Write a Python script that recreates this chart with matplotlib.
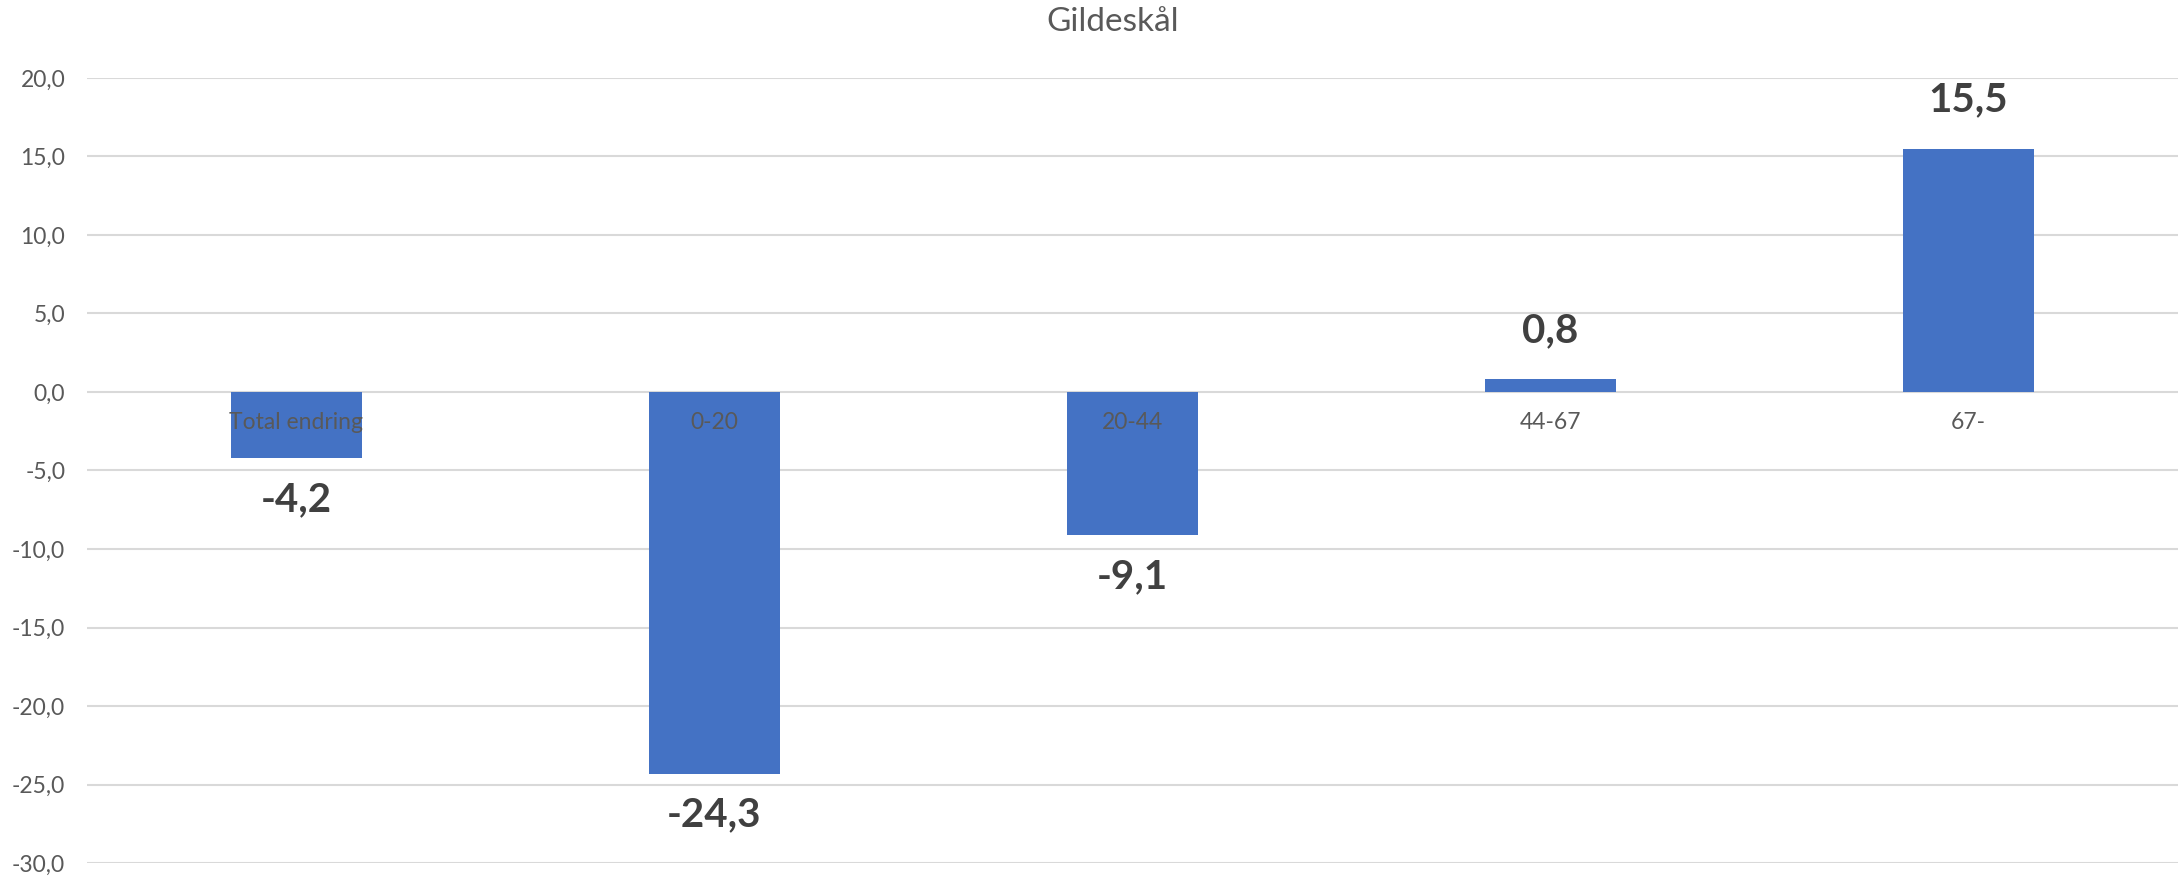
#!/usr/bin/env python3
import matplotlib
matplotlib.use("Agg")
import matplotlib.pyplot as plt
from matplotlib.ticker import FuncFormatter, MultipleLocator

TITLE = "Gildeskål"
CATEGORIES = ["Total endring", "0-20", "20-44", "44-67", "67-"]
VALUES = [-4.2, -24.3, -9.1, 0.8, 15.5]

BAR_COLOR = "#4472C4"
TEXT_COLOR = "#595959"
LABEL_COLOR = "#404040"
GRID_COLOR = "#D9D9D9"

plt.rcParams["font.family"] = ["Lato", "DejaVu Sans"]


def comma(v: float, _pos=None) -> str:
    return f"{v:.1f}".replace(".", ",")


fig = plt.figure(figsize=(21.81, 8.76), dpi=100)
ax = fig.add_axes([0.0401, 0.0148, 0.9583, 0.8962])

x = list(range(len(CATEGORIES)))
ax.bar(x, VALUES, width=0.313, color=BAR_COLOR, zorder=2)

ax.set_xlim(-0.5, len(CATEGORIES) - 0.5)
ax.set_ylim(-30, 20)
ax.yaxis.set_major_locator(MultipleLocator(5))
ax.yaxis.set_major_formatter(FuncFormatter(comma))
ax.grid(axis="y", color=GRID_COLOR, linewidth=1.5, zorder=0)
ax.set_axisbelow(True)
ax.set_xticks([])
ax.tick_params(axis="y", length=0, pad=16, labelsize=16.5, labelcolor=TEXT_COLOR)
for s in ax.spines.values():
    s.set_visible(False)

# category labels sit on the zero line, like the Excel original
for i, cat in enumerate(CATEGORIES):
    ax.annotate(cat, (i, 0), xytext=(0, -22), textcoords="offset points",
                ha="center", va="center", fontsize=16.5, color=TEXT_COLOR, zorder=3)

# value labels
for i, v in enumerate(VALUES):
    off = 35 if v >= 0 else -30
    ax.annotate(comma(v), (i, v), xytext=(0, off), textcoords="offset points",
                ha="center", va="center", fontsize=29, fontweight="bold",
                color=LABEL_COLOR, zorder=3)

fig.text(0.51, 0.975, TITLE, ha="center", va="center", fontsize=24, color=TEXT_COLOR)

fig.savefig("out.png", dpi=100)
